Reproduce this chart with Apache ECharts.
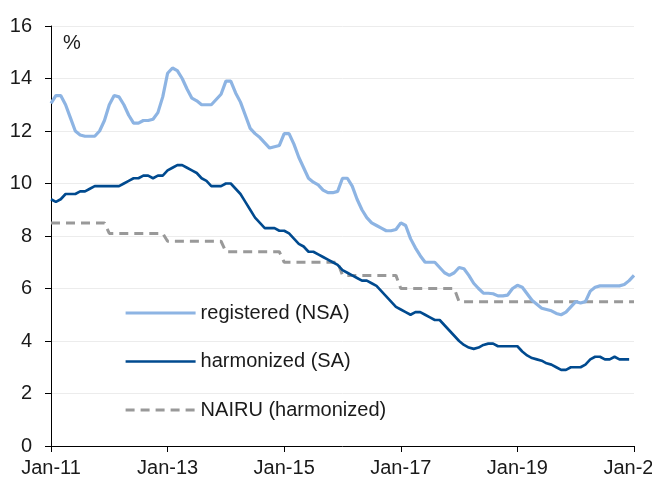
<!DOCTYPE html>
<html>
<head>
<meta charset="utf-8">
<script src="https://cdn.jsdelivr.net/npm/echarts@6/dist/echarts.min.js"></script>
<style>
html,body{margin:0;padding:0;background:#fff;}
#c{width:652px;height:484px;}
</style>
</head>
<body>
<div id="c"></div>
<script>
// Monthly data, Jan 2011 .. Jan 2021
const startYear = 2011;
const monthNames = ['Jan','Feb','Mar','Apr','May','Jun','Jul','Aug','Sep','Oct','Nov','Dec'];
const tickLabels = ['Jan-11','Jan-13','Jan-15','Jan-17','Jan-19','Jan-21'];

const registeredNSA = [
  13.05,13.35,13.35,13.0,12.5,12.0,11.85,11.8,11.8,11.8,12.0,12.4,
  13.0,13.35,13.3,13.0,12.6,12.3,12.3,12.4,12.4,12.45,12.7,13.3,
  14.2,14.4,14.3,14.0,13.6,13.25,13.15,13.0,13.0,13.0,13.2,13.4,
  13.9,13.9,13.45,13.1,12.6,12.1,11.9,11.75,11.55,11.35,11.4,11.45,
  11.9,11.9,11.5,11.0,10.6,10.2,10.05,9.95,9.75,9.65,9.65,9.7,
  10.2,10.2,9.9,9.4,9.0,8.7,8.5,8.4,8.3,8.2,8.2,8.25,
  8.5,8.4,7.9,7.55,7.25,7.0,7.0,7.0,6.8,6.6,6.5,6.6,
  6.8,6.75,6.5,6.2,6.0,5.82,5.82,5.8,5.72,5.72,5.75,6.0,
  6.12,6.05,5.8,5.55,5.4,5.25,5.2,5.15,5.05,5.0,5.1,5.3,
  5.5,5.45,5.5,5.9,6.05,6.1,6.1,6.1,6.1,6.1,6.15,6.3,
  6.5
];

const harmonizedSA = [
  9.4,9.3,9.4,9.6,9.6,9.6,9.7,9.7,9.8,9.9,9.9,9.9,
  9.9,9.9,9.9,10.0,10.1,10.2,10.2,10.3,10.3,10.2,10.3,10.3,
  10.5,10.6,10.7,10.7,10.6,10.5,10.4,10.2,10.1,9.9,9.9,9.9,
  10.0,10.0,9.8,9.6,9.3,9.0,8.7,8.5,8.3,8.3,8.3,8.2,
  8.2,8.1,7.9,7.7,7.6,7.4,7.4,7.3,7.2,7.1,7.0,6.9,
  6.7,6.6,6.5,6.4,6.3,6.3,6.2,6.1,5.9,5.7,5.5,5.3,
  5.2,5.1,5.0,5.1,5.1,5.0,4.9,4.8,4.8,4.6,4.4,4.2,
  4.0,3.85,3.75,3.7,3.75,3.85,3.9,3.9,3.8,3.8,3.8,3.8,
  3.8,3.6,3.45,3.35,3.3,3.25,3.15,3.1,3.0,2.9,2.9,3.0,
  3.0,3.0,3.1,3.3,3.4,3.4,3.3,3.3,3.4,3.3,3.3,3.3
];

const nairuHarmonized = [
  8.5,8.5,8.5,8.5,8.5,8.5,8.5,8.5,8.5,8.5,8.5,8.5,
  8.1,8.1,8.1,8.1,8.1,8.1,8.1,8.1,8.1,8.1,8.1,8.1,
  7.8,7.8,7.8,7.8,7.8,7.8,7.8,7.8,7.8,7.8,7.8,7.8,
  7.4,7.4,7.4,7.4,7.4,7.4,7.4,7.4,7.4,7.4,7.4,7.4,
  7.0,7.0,7.0,7.0,7.0,7.0,7.0,7.0,7.0,7.0,7.0,7.0,
  6.5,6.5,6.5,6.5,6.5,6.5,6.5,6.5,6.5,6.5,6.5,6.5,
  6.0,6.0,6.0,6.0,6.0,6.0,6.0,6.0,6.0,6.0,6.0,6.0,
  5.5,5.5,5.5,5.5,5.5,5.5,5.5,5.5,5.5,5.5,5.5,5.5,
  5.5,5.5,5.5,5.5,5.5,5.5,5.5,5.5,5.5,5.5,5.5,5.5,
  5.5,5.5,5.5,5.5,5.5,5.5,5.5,5.5,5.5,5.5,5.5,5.5,
  5.5
];

const seriesNames = ['registered (NSA)','harmonized (SA)','NAIRU (harmonized)'];

const categories = [];
for (let i = 0; i < registeredNSA.length; i++) {
  const y = startYear + Math.floor(i / 12);
  categories.push(monthNames[i % 12] + '-' + String(y).slice(2));
}

const C_REG = '#8db4e3', C_HAR = '#004a8f', C_NAI = '#999999';
const FONT = 'Liberation Sans, Arial, sans-serif';
const chart = echarts.init(document.getElementById('c'), null, {renderer: 'canvas'});
chart.setOption({
  animation: false,
  backgroundColor: '#ffffff',
  grid: {left: 51, right: 18, top: 26, bottom: 38, containLabel: false, outerBoundsMode: 'none'},
  graphic: [{
    type: 'text', left: 63, top: 33,
    style: {text: '%', font: '20px ' + FONT, fill: '#1a1a1a'}
  }],
  legend: {
    orient: 'vertical', left: 124, top: 303, padding: 0,
    itemWidth: 70, itemHeight: 14, itemGap: 28.5,
    itemStyle: {opacity: 0},
    data: [
      {name: seriesNames[0], lineStyle: {color: C_REG, width: 3.2, type: 'solid'}},
      {name: seriesNames[1], lineStyle: {color: C_HAR, width: 2.6, type: 'solid'}},
      {name: seriesNames[2], lineStyle: {color: C_NAI, width: 3, type: [9, 6]}}
    ],
    textStyle: {fontSize: 20, fontFamily: FONT, color: '#1a1a1a'}
  },
  xAxis: {
    type: 'category', data: categories, boundaryGap: false,
    axisLine: {lineStyle: {color: '#000', width: 1}},
    axisTick: {interval: 23, length: 6, lineStyle: {color: '#000'}},
    axisLabel: {
      interval: 23, margin: 12, fontSize: 20, fontFamily: FONT, color: '#1a1a1a',
      formatter: function (v) { return tickLabels.indexOf(v) >= 0 ? v : ''; }
    },
    splitLine: {show: false}
  },
  yAxis: {
    type: 'value', min: 0, max: 16, interval: 2,
    axisLine: {show: true, lineStyle: {color: '#000', width: 1}},
    axisTick: {show: true, length: 6, lineStyle: {color: '#000'}},
    axisLabel: {margin: 19, fontSize: 20, fontFamily: FONT, color: '#1a1a1a'},
    splitLine: {show: true, lineStyle: {color: '#ececec', width: 1}}
  },
  series: [
    {
      name: seriesNames[2], type: 'line', data: nairuHarmonized, z: 2,
      symbol: 'none',
      lineStyle: {color: C_NAI, width: 3, type: [9, 6]},
      itemStyle: {color: C_NAI}
    },
    {
      name: seriesNames[0], type: 'line', data: registeredNSA, z: 3,
      symbol: 'none',
      lineStyle: {color: C_REG, width: 3.2},
      itemStyle: {color: C_REG}
    },
    {
      name: seriesNames[1], type: 'line', data: harmonizedSA, z: 4,
      symbol: 'none',
      lineStyle: {color: C_HAR, width: 2.6},
      itemStyle: {color: C_HAR}
    }
  ]
});
</script>
</body>
</html>
